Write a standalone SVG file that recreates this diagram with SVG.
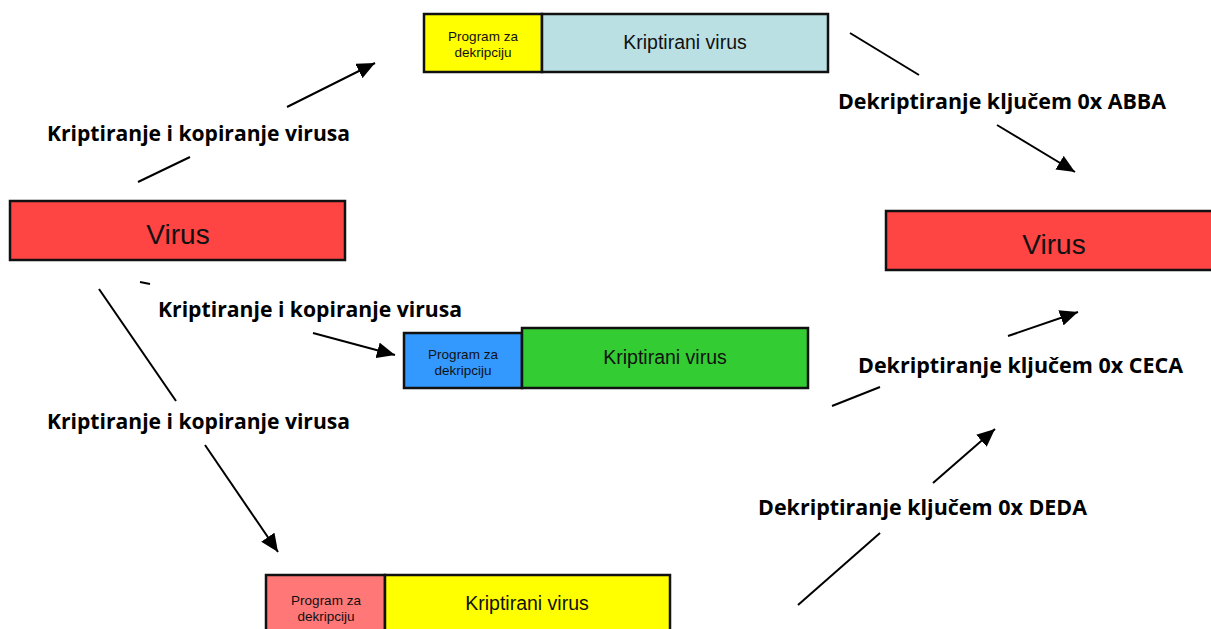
<svg xmlns="http://www.w3.org/2000/svg" width="1211" height="629" viewBox="0 0 1211 629">
<style>
.box{stroke:#111;stroke-width:2.5}
.t{font-family:"Liberation Sans",Arial,sans-serif;fill:#111;text-anchor:middle}
.small{font-size:13.5px}
.mid{font-size:19.5px}
.big{font-size:28px}
.lbl{font-family:"Open Sans","DejaVu Sans",sans-serif;font-weight:bold;font-size:21.5px;fill:#000}
.ln{stroke:#000;stroke-width:2;fill:none}
</style>
<defs>
<marker id="ah" markerUnits="userSpaceOnUse" markerWidth="20" markerHeight="16" refX="18" refY="8" orient="auto">
<path d="M0,0 L18,8 L0,16 z" fill="#000"/>
</marker>
</defs>
<rect width="1211" height="629" fill="#fff"/>
<g id="encrypted-abba">
<rect class="box" x="424" y="14" width="118" height="58" fill="#FFFF00"/>
<rect class="box" x="542" y="14" width="286" height="58" fill="#BBE0E3"/>
<text class="t small" x="483" y="41">Program za</text>
<text class="t small" x="483" y="57">dekripciju</text>
<text class="t mid" x="685" y="49">Kriptirani virus</text>
</g>
<g id="virus-left">
<rect class="box" x="10" y="201" width="335" height="59" fill="#FF4444"/>
<text class="t big" x="178" y="244">Virus</text>
</g>
<g id="encrypted-ceca">
<rect class="box" x="404" y="333" width="118" height="55" fill="#3399FF"/>
<rect class="box" x="522" y="328" width="286" height="60" fill="#33CC33"/>
<text class="t small" x="463" y="359">Program za</text>
<text class="t small" x="463" y="375">dekripciju</text>
<text class="t mid" x="665" y="364">Kriptirani virus</text>
</g>
<g id="encrypted-deda">
<rect class="box" x="266" y="575" width="119" height="60" fill="#FF7777"/>
<rect class="box" x="385" y="575" width="285" height="60" fill="#FFFF00"/>
<text class="t small" x="326" y="605">Program za</text>
<text class="t small" x="326" y="621">dekripciju</text>
<text class="t mid" x="527" y="610">Kriptirani virus</text>
</g>
<g id="virus-right">
<rect class="box" x="886" y="211" width="330" height="59" fill="#FF4444"/>
<text class="t big" x="1054" y="254">Virus</text>
</g>
<g id="connectors">
<line class="ln" x1="138" y1="182" x2="190" y2="157"/>
<line class="ln" x1="287" y1="107" x2="375" y2="63" marker-end="url(#ah)"/>
<line class="ln" x1="140" y1="282" x2="150" y2="284"/>
<line class="ln" x1="313" y1="333" x2="395" y2="355" marker-end="url(#ah)"/>
<line class="ln" x1="99" y1="289" x2="176" y2="401"/>
<line class="ln" x1="205" y1="445" x2="278" y2="552" marker-end="url(#ah)"/>
<line class="ln" x1="850" y1="33" x2="919" y2="75"/>
<line class="ln" x1="997" y1="125" x2="1075" y2="172" marker-end="url(#ah)"/>
<line class="ln" x1="832" y1="406" x2="880" y2="387"/>
<line class="ln" x1="1008" y1="336" x2="1078" y2="312" marker-end="url(#ah)"/>
<line class="ln" x1="798" y1="605" x2="880" y2="533"/>
<line class="ln" x1="933" y1="483" x2="995" y2="429" marker-end="url(#ah)"/>
</g>
<g id="labels">
<text class="lbl" x="47" y="141" textLength="303" lengthAdjust="spacingAndGlyphs">Kriptiranje i kopiranje virusa</text>
<text class="lbl" x="158" y="317" textLength="304" lengthAdjust="spacingAndGlyphs">Kriptiranje i kopiranje virusa</text>
<text class="lbl" x="47" y="429" textLength="303" lengthAdjust="spacingAndGlyphs">Kriptiranje i kopiranje virusa</text>
<text class="lbl" x="838" y="109" textLength="328" lengthAdjust="spacingAndGlyphs">Dekriptiranje ključem 0x ABBA</text>
<text class="lbl" x="858" y="373" textLength="325" lengthAdjust="spacingAndGlyphs">Dekriptiranje ključem 0x CECA</text>
<text class="lbl" x="758" y="515" textLength="329" lengthAdjust="spacingAndGlyphs">Dekriptiranje ključem 0x DEDA</text>
</g>
</svg>
